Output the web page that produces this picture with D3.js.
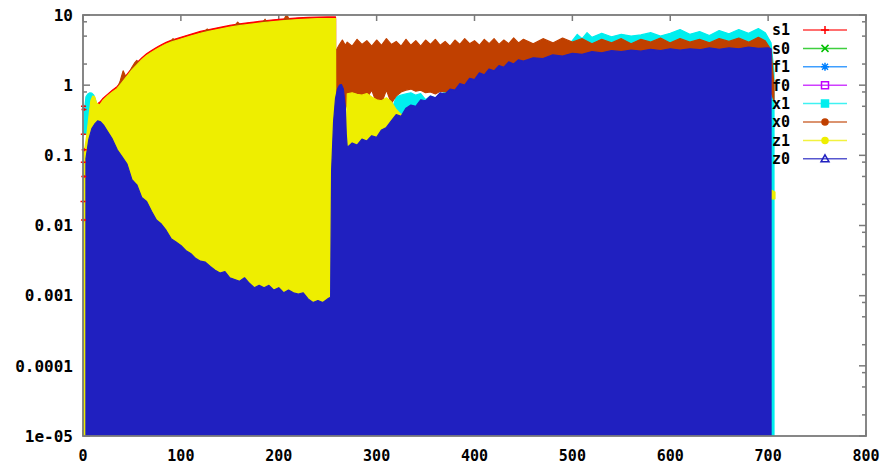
<!DOCTYPE html>
<html>
<head>
<meta charset="utf-8">
<script src="https://cdn.jsdelivr.net/npm/d3@7"></script>
<style>
  body { margin: 0; background: #fff; }
  text { font-family: "DejaVu Sans Mono", "Liberation Mono", monospace; font-weight: bold; fill: #000; }
</style>
</head>
<body>
<svg id="chart" width="884" height="464"></svg>
<script>
// axis values
const xTicks = [0, 100, 200, 300, 400, 500, 600, 700, 800];
const yTicks = [1e-5, 1e-4, 1e-3, 1e-2, 1e-1, 1, 10];
const yTickLabels = ["1e-05", "0.0001", "0.001", "0.01", "0.1", "1", "10"];
const yMinorSteps = [2, 5, 8];
const floorValue = 1e-5;

const seriesNames = ["s1", "s0", "f1", "f0", "x1", "x0", "z1", "z0"];
const seriesColors = ["#ff0000", "#00c000", "#0080ff", "#c000ff", "#00eeee", "#c04000", "#eeee00", "#2020c0"];

// s1 : upper edge (filled down) + scattered points at x~0
const s1Top = [[13,0.52],[17,0.57],[20,0.64],[25,0.74],[30,0.85],[35,0.96],[40,1.17],[45,1.43],[50,1.75],[55,2.07],[60,2.44],[65,2.8],[70,3.12],[75,3.44],[80,3.76],[85,4.08],[90,4.35],[100,4.82],[110,5.3],[120,5.83],[130,6.25],[140,6.68],[150,7.1],[160,7.47],[170,7.8],[180,8.1],[190,8.42],[200,8.68],[210,8.9],[220,9.1],[230,9.25],[240,9.35],[250,9.4],[258,9.4]];
const s1Dots = [[0.5,0.5],[1,0.45],[0.3,0.2],[1.2,0.12],[0.3,0.08],[0.8,0.05],[0,0.022],[0.5,0.012]];

// s0, f1, f0 : lie under z0
const s0Line = [[400,0.02],[500,0.05],[600,0.08],[700,0.1]];
const f1Line = [[400,0.01],[500,0.03],[600,0.05],[700,0.06]];
const f0Line = [[400,0.005],[500,0.01],[600,0.02],[700,0.03]];

// x1
const x1Left = [[1,0.3,0.2],[2,0.5,0.2],[3,0.68,0.2],[5,0.75,0.2],[7,0.78,0.2],[9,0.77,0.2],[11,0.72,0.2],[13,0.6,0.2],[15,0.45,0.2]];
const x1Mid = [[315,0.42],[320,0.68],[325,0.72],[330,0.75],[335,0.78],[340,0.72],[345,0.76],[350,0.62],[355,0.7],[360,0.66],[370,0.8],[380,0.92],[390,1.02],[400,1.15],[410,1.25],[420,1.4],[430,1.55],[440,1.75],[450,1.9]];
const x1Right = [[470,3.2],[480,3.9],[490,3.5],[500,4.3],[505,5.3],[510,4.6],[515,5.6],[520,4.8],[530,5.5],[540,4.9],[550,5.3],[560,5.0],[570,5.2],[580,5.6],[590,5.0],[600,5.5],[610,6.2],[620,5.3],[630,5.8],[640,5.1],[650,6.0],[660,5.4],[670,6.2],[680,5.5],[690,6.4],[697,5.6],[703,4.0],[706,1.5]];

// x0
const x0Left = [[17,0.5],[25,0.68],[35,0.88],[38,1.15],[41,1.6],[44,1.3],[47,1.45],[50,1.8],[53,2.1],[55,2.25],[57,2.1],[60,2.25],[70,2.9],[80,3.5],[88,3.95],[90,4.2],[92,4.6],[94,4.3],[96,4.2],[100,4.5],[110,4.95],[120,5.45],[124,5.8],[127,6.3],[130,5.85],[140,6.25],[150,6.65],[155,7.0],[158,7.9],[161,7.2],[170,7.3],[180,7.6],[184,8.0],[186,8.7],[188,7.9],[200,8.15],[205,8.4],[208,10.2],[211,8.5],[220,8.55],[230,8.7],[240,8.8],[250,8.85],[258,8.85]];
const x0Right = [[259,3.2,1e-5],[262,3.8,1e-5],[265,4.4,1e-5],[268,3.7,0.45],[270,4.1,0.55],[275,3.6,0.6],[280,4.5,0.6],[285,3.8,0.6],[290,4.3,0.65],[295,3.6,0.85],[300,4.4,0.55],[305,3.7,0.55],[310,4.6,0.85],[315,3.8,0.55],[320,4.2,0.7],[325,3.6,0.8],[330,4.5,0.85],[335,3.7,0.88],[340,4.3,0.82],[345,3.6,0.85],[350,4.4,0.78],[355,3.8,0.8],[360,4.5,0.75],[365,3.7,0.82],[370,4.2,0.8],[375,3.6,0.8],[380,4.4,0.8],[385,3.8,0.9],[390,4.6,0.9],[395,3.9,1.0],[400,4.3,1.05],[405,3.7,1.2],[410,4.5,1.2],[415,3.9,1.4],[420,4.6,1.4],[425,3.8,1.6],[430,4.4,1.6],[435,3.9,1.8],[440,4.7,1.8],[445,4.0,2.0],[450,4.5,2.0],[460,3.9,2.1],[470,4.6,2.1],[480,4.0,2.3],[490,4.7,2.3],[500,4.1,2.5],[510,4.6,2.5],[520,3.9,2.6],[530,4.5,2.6],[540,4.0,2.7],[550,4.6,2.7],[560,3.9,2.8],[570,4.5,2.8],[580,4.1,2.9],[590,4.7,2.9],[600,4.0,2.9],[610,4.6,3.0],[620,4.1,3.0],[630,4.5,3.0],[640,4.0,3.0],[650,4.6,3.0],[660,4.2,3.1],[670,4.7,3.1],[680,4.1,3.1],[690,4.8,3.1],[697,4.3,3.1],[703,3.2,0.8],[706,1.0,0.6]];

// z1
const z1Left = [[0,0.1],[1,0.12],[2,0.13],[4,0.2],[6,0.35],[8,0.6],[10,0.7],[12,0.68],[14,0.55],[17,0.52],[20,0.6],[25,0.7],[30,0.8],[35,0.9],[40,1.1],[45,1.35],[50,1.65],[55,1.95],[60,2.3],[65,2.65],[70,2.95],[75,3.25],[80,3.55],[85,3.85],[90,4.1],[100,4.55],[110,5.0],[120,5.5],[130,5.9],[140,6.3],[150,6.7],[160,7.05],[170,7.35],[180,7.65],[190,7.95],[200,8.2],[210,8.4],[220,8.6],[230,8.75],[240,8.85],[250,8.9],[258,8.9],[259,1e-5]];
const z1Mid = [[269,0.2],[270,0.75],[275,0.78],[280,0.74],[285,0.72],[290,0.76],[295,0.68],[300,0.62],[305,0.6],[310,0.66],[315,0.58],[320,0.45],[325,0.38],[330,0.4],[335,0.3]];
const z1Right = [[703,0.032,0.024],[707,0.03,0.024]];

// z0
const z0Top = [[3,0.09],[6,0.17],[9,0.24],[12,0.28],[15,0.31],[18,0.3],[21,0.27],[25,0.22],[30,0.17],[35,0.12],[40,0.095],[45,0.075],[50,0.045],[55,0.038],[60,0.025],[65,0.022],[70,0.016],[75,0.012],[80,0.0105],[85,0.0085],[90,0.0065],[95,0.0058],[100,0.0052],[105,0.0044],[110,0.004],[115,0.0034],[120,0.0031],[125,0.003],[130,0.0026],[135,0.0023],[140,0.0021],[145,0.0022],[150,0.0018],[155,0.0017],[160,0.0016],[165,0.0018],[170,0.0015],[175,0.0013],[180,0.0014],[185,0.0013],[190,0.0014],[195,0.0012],[200,0.0013],[205,0.0011],[210,0.0012],[215,0.0011],[220,0.00105],[225,0.0011],[230,0.0009],[235,0.0008],[240,0.00085],[245,0.0008],[250,0.0009],[253,0.00095],[254,0.06],[256,0.3],[258,0.65],[260,0.88],[262,1.0],[264,1.02],[266,0.88],[268,0.5],[269,0.2],[270,0.13],[275,0.15],[280,0.14],[285,0.17],[290,0.16],[295,0.19],[300,0.18],[305,0.23],[310,0.25],[315,0.31],[320,0.38],[325,0.36],[330,0.47],[335,0.52],[340,0.5],[345,0.62],[350,0.6],[355,0.7],[360,0.66],[365,0.78],[370,0.75],[375,0.88],[380,0.85],[385,1.05],[390,1.0],[395,1.25],[400,1.2],[405,1.5],[410,1.4],[415,1.7],[420,1.6],[425,1.9],[430,1.8],[435,2.15],[440,2.0],[445,2.3],[450,2.2],[460,2.45],[470,2.4],[480,2.7],[490,2.6],[500,2.85],[510,2.75],[520,3.0],[530,2.9],[540,3.1],[550,3.0],[560,3.15],[570,3.05],[580,3.25],[590,3.1],[600,3.3],[610,3.15],[620,3.3],[630,3.2],[640,3.4],[650,3.25],[660,3.4],[670,3.3],[680,3.5],[690,3.35],[700,3.4],[703,3.3]];

const margin = {left: 83, right: 18, top: 15, bottom: 28};
const width = 884, height = 464;

const svg = d3.select("#chart");

const x = d3.scaleLinear().domain([0, 800]).range([margin.left, width - margin.right]);
const y = d3.scaleLog().domain([1e-5, 10]).range([height - margin.bottom, margin.top]);

const axisColor = "#7a7a7a";

// ticks (behind the data)
const tickLayer = svg.append("g");
let minorVals = [];
yTicks.slice(0, -1).forEach(d => yMinorSteps.forEach(m => minorVals.push(d * m)));

[x.range()[0], x.range()[1]].forEach((px, side) => {
  const dir = side === 0 ? 1 : -1;
  tickLayer.selectAll(null).data(yTicks).enter().append("line")
    .attr("x1", px).attr("x2", px + dir * 7)
    .attr("y1", d => y(d)).attr("y2", d => y(d))
    .attr("stroke", axisColor).attr("stroke-width", 1.5);
  tickLayer.selectAll(null).data(minorVals).enter().append("line")
    .attr("x1", px).attr("x2", px + dir * 4)
    .attr("y1", d => y(d)).attr("y2", d => y(d))
    .attr("stroke", axisColor).attr("stroke-width", 1.5);
});
[y.range()[0], y.range()[1]].forEach((py, side) => {
  const dir = side === 0 ? -1 : 1;
  tickLayer.selectAll(null).data(xTicks).enter().append("line")
    .attr("x1", d => x(d)).attr("x2", d => x(d))
    .attr("y1", py).attr("y2", py + dir * 6)
    .attr("stroke", axisColor).attr("stroke-width", 1.5);
});

// data
svg.append("clipPath").attr("id", "plotClip").append("rect")
  .attr("x", margin.left).attr("y", margin.top)
  .attr("width", width - margin.left - margin.right)
  .attr("height", height - margin.top - margin.bottom);

const plot = svg.append("g").attr("clip-path", "url(#plotClip)");

const area = d3.area()
  .x(d => x(d[0]))
  .y0(d => y(d.length > 2 ? d[2] : floorValue))
  .y1(d => y(d[1]));

function band(rows, color) {
  plot.append("path").datum(rows)
    .attr("d", area)
    .attr("fill", color)
    .attr("stroke", color)
    .attr("stroke-width", 1.2)
    .attr("stroke-linejoin", "round");
}

function line(rows, color) {
  plot.append("path").datum(rows)
    .attr("d", d3.line().x(d => x(d[0])).y(d => y(d[1])))
    .attr("fill", "none")
    .attr("stroke", color)
    .attr("stroke-width", 1);
}

band(s1Top, seriesColors[0]);
line(s0Line, seriesColors[1]);
line(f1Line, seriesColors[2]);
line(f0Line, seriesColors[3]);
band(x1Left, seriesColors[4]);
band(x1Mid, seriesColors[4]);
band(x1Right, seriesColors[4]);
band(x0Left, seriesColors[5]);
band(x0Right, seriesColors[5]);
band(z1Left, seriesColors[6]);
band(z1Mid, seriesColors[6]);
band(z1Right, seriesColors[6]);
band(z0Top, seriesColors[7]);

// s1 scattered points at the left edge
svg.selectAll(null).data(s1Dots).enter().append("path")
  .attr("transform", d => "translate(" + x(d[0]) + "," + y(d[1]) + ")")
  .attr("d", "M-2.5,0h5M0,-1.5v3")
  .attr("stroke", seriesColors[0])
  .attr("stroke-width", 1.5);

// border
svg.append("rect")
  .attr("x", margin.left).attr("y", margin.top)
  .attr("width", width - margin.left - margin.right)
  .attr("height", height - margin.top - margin.bottom)
  .attr("fill", "none")
  .attr("stroke", axisColor)
  .attr("stroke-width", 1.8);

// tick labels
svg.selectAll(null).data(yTicks).enter().append("text")
  .attr("x", 73)
  .attr("y", d => y(d))
  .attr("dy", "0.36em")
  .attr("text-anchor", "end")
  .style("font-size", "16px")
  .text((d, i) => yTickLabels[i]);

svg.selectAll(null).data(xTicks).enter().append("text")
  .attr("x", d => x(d))
  .attr("y", 456)
  .attr("dy", "0.36em")
  .attr("text-anchor", "middle")
  .style("font-size", "15px")
  .text(d => d);

// legend
const markers = [
  "M-4,0h8M0,-4v8",
  "M-3.5,-3.5L3.5,3.5M-3.5,3.5L3.5,-3.5",
  "M-4,0h8M0,-4v8M-3,-3L3,3M-3,3L3,-3",
  "M-3.5,-3.5h7v7h-7z",
  "M-3.5,-3.5h7v7h-7z",
  "M-3,0a3,3 0 1,0 6,0a3,3 0 1,0 -6,0",
  "M-3,0a3,3 0 1,0 6,0a3,3 0 1,0 -6,0",
  "M0,-4L4,3H-4z"
];
const filledMarker = [false, false, false, false, true, true, true, false];

const legend = svg.append("g");
seriesNames.forEach((name, i) => {
  const cy = 30 + i * 18.4;
  legend.append("text")
    .attr("x", 772).attr("y", cy).attr("dy", "0.36em")
    .style("font-size", "15px")
    .text(name);
  legend.append("line")
    .attr("x1", 803).attr("x2", 847)
    .attr("y1", cy).attr("y2", cy)
    .attr("stroke", seriesColors[i])
    .attr("stroke-width", 1.5)
    .attr("opacity", 0.75);
  legend.append("path")
    .attr("transform", "translate(825," + cy + ")")
    .attr("d", markers[i])
    .attr("fill", filledMarker[i] ? seriesColors[i] : "none")
    .attr("stroke", seriesColors[i])
    .attr("stroke-width", 1.5);
});
</script>
</body>
</html>
